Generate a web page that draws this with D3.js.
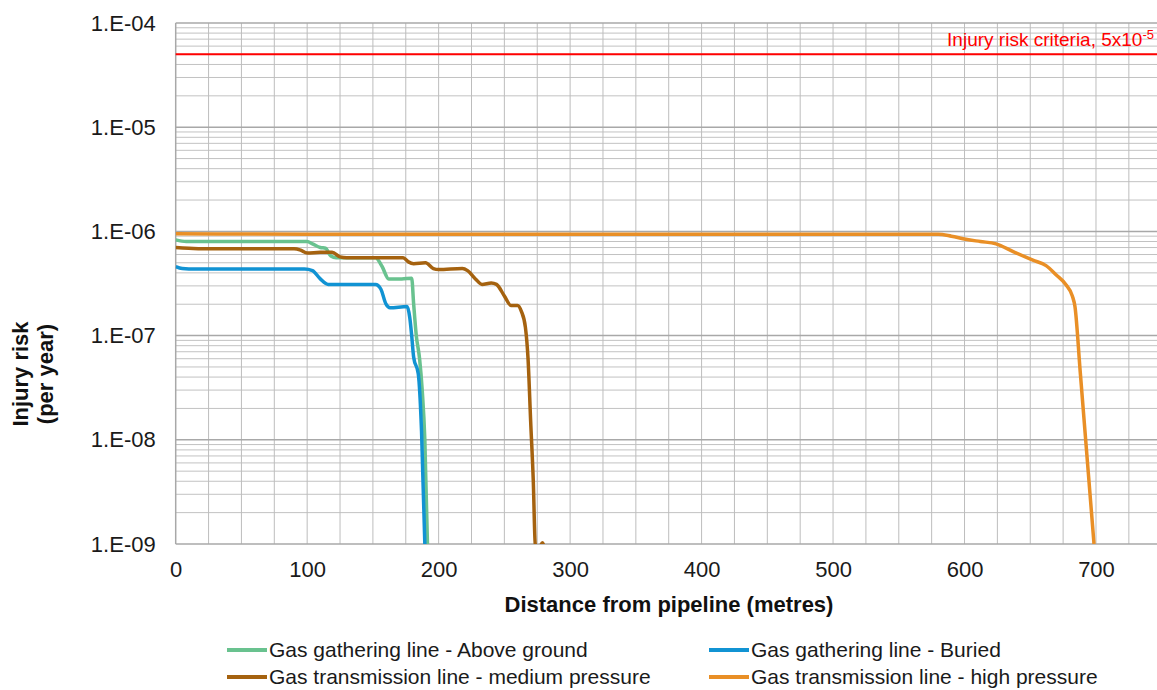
<!DOCTYPE html>
<html>
<head>
<meta charset="utf-8">
<script src="https://cdn.jsdelivr.net/npm/d3@7"></script>
<style>
  body { margin: 0; background: #fff; }
  svg { font-family: "Liberation Sans", Arial, sans-serif; }
</style>
</head>
<body>
<div id="canvas"></div>
<script>
// data: [distance (m), injury risk (per year)]
var aboveGround = [[0,8.3e-7],[8,8.0e-7],[30,8.0e-7],[100,8.0e-7],[104,7.6e-7],[110,7.0e-7],[114,6.9e-7],[118,5.8e-7],[122,5.6e-7],[152,5.6e-7],[157,4.6e-7],[162,3.5e-7],[172,3.5e-7],[179.5,3.55e-7],[181,2.0e-7],[183,1.0e-7],[185.5,6e-8],[187.5,3e-8],[189.5,1e-8],[191.5,1e-9]];
var buried = [[0,4.6e-7],[5,4.4e-7],[15,4.35e-7],[98,4.35e-7],[104,4.2e-7],[110,3.5e-7],[116,3.1e-7],[152,3.1e-7],[156,2.8e-7],[160,2.0e-7],[163,1.85e-7],[176,1.9e-7],[178,1.5e-7],[179.5,1.0e-7],[181,6.2e-8],[184.5,4.3e-8],[187,1.2e-8],[189.5,1e-9]];
var mediumPressure = [[0,7.0e-7],[10,6.9e-7],[20,6.8e-7],[90,6.8e-7],[95,6.6e-7],[100,6.2e-7],[110,6.3e-7],[119,6.3e-7],[125,5.7e-7],[130,5.6e-7],[173,5.6e-7],[177,5.1e-7],[181,4.9e-7],[190,5.0e-7],[196,4.4e-7],[200,4.3e-7],[218,4.4e-7],[222,4.2e-7],[228,3.5e-7],[233,3.1e-7],[240,3.2e-7],[244,3.1e-7],[250,2.4e-7],[255,1.95e-7],[260,1.95e-7],[263,1.7e-7],[266,1.2e-7],[268,6e-8],[270,1.5e-8],[272,4e-9],[273.5,1e-9],[276,9e-10],[279,1.03e-9],[281,8e-10]];
var highPressure = [[0,9.5e-7],[100,9.4e-7],[580,9.4e-7],[590,9.0e-7],[601,8.4e-7],[612,8.0e-7],[624,7.6e-7],[637,6.4e-7],[652,5.3e-7],[662,4.7e-7],[670,3.8e-7],[677,3.1e-7],[682,2.4e-7],[684,1.9e-7],[688,4.5e-8],[698.5,1e-9]];

var seriesNames = ['Gas gathering line - Above ground','Gas gathering line - Buried','Gas transmission line - medium pressure','Gas transmission line - high pressure'];
var seriesColors = ['#69c28f','#1193d3','#a5620f','#e98f26'];
var seriesData = [aboveGround, buried, mediumPressure, highPressure];

var criteria = 5e-5;
var xTicks = [0,100,200,300,400,500,600,700];
var yTicks = [1e-9,1e-8,1e-7,1e-6,1e-5,1e-4];
var yTickLabels = ['1.E-09','1.E-08','1.E-07','1.E-06','1.E-05','1.E-04'];

var W = 1157, H = 690;
var m = {t:23, l:175.7};
var w = W - m.l, h = 544 - m.t;

var svg = d3.select('#canvas').append('svg')
    .attr('width', W)
    .attr('height', H);

svg.append('clipPath').attr('id','clip')
  .append('rect').attr('x',0).attr('y',-2).attr('width',w).attr('height',h+2);

var plot = svg.append('g')
    .attr('transform','translate('+m.l+','+m.t+')');

var scaleX = d3.scaleLinear().domain([0, w/1.3147]).range([0, w]);
var scaleY = d3.scaleLog().domain([1e-9, 1e-4]).range([h, 0]);

// gridlines
var minorY = [];
yTicks.slice(0,-1).forEach(function(d){ for (var k=2;k<10;k++) minorY.push(d*k); });
var gridX = d3.range(25, 750, 25);

plot.append('g').selectAll('line').data(minorY).enter().append('line')
    .attr('x1',0).attr('x2',w)
    .attr('y1',function(d){ return scaleY(d); }).attr('y2',function(d){ return scaleY(d); })
    .style('stroke','#c2c2c2').style('stroke-width',1);

plot.append('g').selectAll('line').data(gridX).enter().append('line')
    .attr('x1',function(d){ return scaleX(d); }).attr('x2',function(d){ return scaleX(d); })
    .attr('y1',0).attr('y2',h)
    .style('stroke','#bdbdbd').style('stroke-width',1);

plot.append('g').selectAll('line').data(yTicks).enter().append('line')
    .attr('x1',0).attr('x2',w)
    .attr('y1',function(d){ return scaleY(d); }).attr('y2',function(d){ return scaleY(d); })
    .style('stroke','#a8a8a8').style('stroke-width',1.5);

// axis lines
plot.append('line').attr('x1',0).attr('x2',0).attr('y1',0).attr('y2',h)
    .style('stroke','#a8a8a8').style('stroke-width',1.5);

// axis labels
var xAxis = d3.axisBottom(scaleX).tickValues(xTicks).tickSize(0).tickPadding(17);
var gx = plot.append('g').attr('transform','translate(0,'+h+')').call(xAxis);
gx.select('.domain').remove();
gx.selectAll('text').style('font-size','22px').style('fill','#1a1a1a').style('font-family','"Liberation Sans", Arial, sans-serif');

var yAxis = d3.axisLeft(scaleY).tickValues(yTicks).tickSize(0).tickPadding(20)
    .tickFormat(function(d,i){ return yTickLabels[i]; });
var gy = plot.append('g').call(yAxis);
gy.select('.domain').remove();
gy.selectAll('text').style('font-size','22px').style('fill','#1a1a1a').style('font-family','"Liberation Sans", Arial, sans-serif');

// criteria line
plot.append('line').attr('x1',0).attr('x2',w)
    .attr('y1',scaleY(criteria)).attr('y2',scaleY(criteria))
    .style('stroke','#ff0000').style('stroke-width',2);

var crit = svg.append('text').attr('x',1154).attr('y',m.t+scaleY(criteria)-8)
    .attr('text-anchor','end').style('fill','#ff0000').style('font-size','19px');
crit.append('tspan').text('Injury risk criteria, 5x10');
crit.append('tspan').attr('dy',-7).style('font-size','13px').text('-5');

// series
var line = d3.line()
    .x(function(d){ return scaleX(d[0]); })
    .y(function(d){ return scaleY(d[1]); })
    .curve(d3.curveMonotoneX);

plot.append('g').attr('clip-path','url(#clip)')
  .selectAll('path').data(seriesData).enter().append('path')
    .attr('d', line)
    .style('fill','none')
    .style('stroke',function(d,i){ return seriesColors[i]; })
    .style('stroke-width',3.5)
    .style('stroke-linejoin','round');

// titles
svg.append('text').attr('x',669).attr('y',612).attr('text-anchor','middle')
    .style('font-size','22px').style('font-weight','bold').style('fill','#111')
    .text('Distance from pipeline (metres)');

var yt = svg.append('text').attr('transform','translate(28,374) rotate(-90)')
    .attr('text-anchor','middle').style('font-size','22px').style('font-weight','bold').style('fill','#111');
yt.append('tspan').attr('x',0).attr('dy',0).text('Injury risk');
yt.append('tspan').attr('x',0).attr('dy',25).text('(per year)');

// legend
var legPos = [[227,650],[709,650],[227,677],[709,677]];
var leg = svg.append('g').selectAll('g').data(seriesNames).enter().append('g')
    .attr('transform',function(d,i){ return 'translate('+legPos[i][0]+','+legPos[i][1]+')'; });
leg.append('line').attr('x1',0).attr('x2',40).attr('y1',0).attr('y2',0)
    .style('stroke',function(d,i){ return seriesColors[i]; }).style('stroke-width',4);
leg.append('text').attr('x',42).attr('dy','0.35em')
    .style('font-size','21px').style('fill','#1a1a1a')
    .text(function(d){ return d; });
</script>
</body>
</html>
